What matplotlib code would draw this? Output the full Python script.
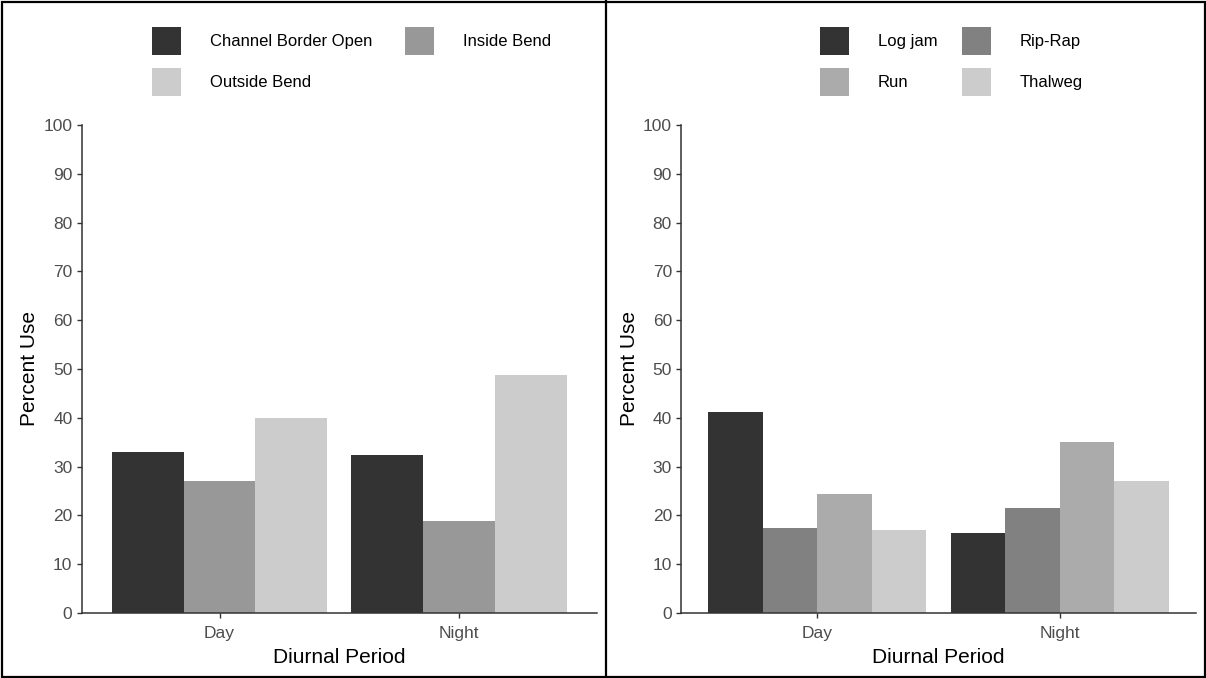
import numpy as np
import matplotlib.pyplot as plt
from matplotlib.patches import Patch, Rectangle
from matplotlib.lines import Line2D

plt.rcParams['font.family'] = ['Liberation Sans', 'DejaVu Sans']

# Data
periods = ['Day', 'Night']

habitat_left = ['Channel Border Open', 'Inside Bend', 'Outside Bend']
pct_left = {
    'Channel Border Open': [32.9, 32.3],
    'Inside Bend': [27.1, 18.8],
    'Outside Bend': [40.0, 48.7],
}
colors_left = ['#333333', '#989898', '#cccccc']

habitat_right = ['Log jam', 'Rip-Rap', 'Run', 'Thalweg']
pct_right = {
    'Log jam': [41.1, 16.3],
    'Rip-Rap': [17.4, 21.6],
    'Run': [24.3, 35.1],
    'Thalweg': [17.1, 27.1],
}
colors_right = ['#333333', '#818181', '#ababab', '#cccccc']

W, H = 1206, 678
fig = plt.figure(figsize=(W / 100, H / 100), dpi=100)


def px_axes(x0, x1, ytop, ybot):
    return fig.add_axes([x0 / W, 1 - ybot / H, (x1 - x0) / W, (ybot - ytop) / H])


def draw_panel(ax, groups, values, colors, xlim):
    n = len(groups)
    width = 0.9 / n
    x = np.arange(1, len(periods) + 1)
    handles = []
    for i, (g, c) in enumerate(zip(groups, colors)):
        off = -0.45 + width * (i + 0.5)
        ax.bar(x + off, values[g], width=width, color=c, linewidth=0)
        handles.append(Patch(facecolor=c, edgecolor='none', label=g))
    ax.set_xlim(*xlim)
    ax.set_ylim(0, 100)
    ax.set_yticks(np.arange(0, 101, 10))
    ax.set_xticks(x)
    ax.set_xticklabels(periods)
    for s in ['top', 'right']:
        ax.spines[s].set_visible(False)
    for s in ['left', 'bottom']:
        ax.spines[s].set_color('#333333')
        ax.spines[s].set_linewidth(1.1)
    ax.tick_params(length=3.5, width=1.0, color='#333333', labelcolor='#4d4d4d',
                   labelsize=12.5)
    ax.tick_params(axis='x', pad=6)
    ax.tick_params(axis='y', pad=3)
    ax.set_xlabel('Diurnal Period', fontsize=15, color='black', labelpad=5)
    ax.set_ylabel('Percent Use', fontsize=15, color='black', labelpad=3)
    return handles


ax1 = px_axes(81.5, 597, 125, 613)
h1 = draw_panel(ax1, habitat_left, pct_left, colors_left, (0.423, 2.577))
ax2 = px_axes(681, 1196, 125, 613)
h2 = draw_panel(ax2, habitat_right, pct_right, colors_right, (0.438, 2.562))

# legends filled row-wise like ggplot
leg_kw = dict(ncol=2, frameon=False, fontsize=12, handlelength=1.75, handleheight=2.2,
              handletextpad=1.7, labelspacing=0.8, borderpad=0,
              borderaxespad=0, loc='upper left')
fig.legend([h1[0], h1[2], h1[1]], [habitat_left[0], habitat_left[2], habitat_left[1]],
           bbox_to_anchor=(152 / W, 1 - 27 / H), columnspacing=2.0, **leg_kw)
fig.legend([h2[0], h2[2], h2[1], h2[3]],
           [habitat_right[0], habitat_right[2], habitat_right[1], habitat_right[3]],
           bbox_to_anchor=(820 / W, 1 - 27 / H), columnspacing=1.5, **leg_kw)

# outer frame and divider
fig.add_artist(Rectangle((1.5 / W, 1.5 / H), (W - 3) / W, (H - 3) / H, transform=fig.transFigure,
                         fill=False, edgecolor='black', linewidth=1.6))
fig.add_artist(Line2D([606 / W, 606 / W], [0, 1], transform=fig.transFigure,
                      color='black', linewidth=1.6))

fig.savefig('out.png', dpi=100)
